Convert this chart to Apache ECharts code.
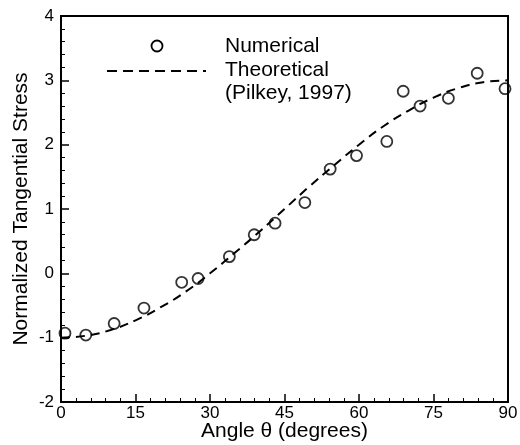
<!DOCTYPE html>
<html>
<head>
<meta charset="utf-8">
<script src="https://cdn.jsdelivr.net/npm/echarts@6/dist/echarts.min.js"></script>
<style>html,body{margin:0;padding:0;background:#fff}#c{width:520px;height:445px}</style>
</head>
<body>
<div id="c"></div>
<script>
// Numerical results (angle in degrees, normalized tangential stress)
var numAngle = [0.8, 5.0, 10.7, 16.7, 24.3, 27.6, 33.9, 38.9, 43.1, 49.1, 54.2, 59.5, 65.6, 68.9, 72.3, 78.0, 83.8, 89.4];
var numStress = [-0.93, -0.96, -0.78, -0.54, -0.14, -0.08, 0.26, 0.60, 0.78, 1.10, 1.62, 1.83, 2.05, 2.83, 2.60, 2.72, 3.11, 2.87];
// Theoretical curve (Pilkey, 1997)
var theoAngle = [0, 5, 10, 15, 20, 25, 30, 35, 40, 45, 50, 55, 60, 65, 70, 75, 80, 85, 90];
var theoStress = [-1.00, -0.97, -0.88, -0.73, -0.53, -0.29, 0.00, 0.32, 0.65, 1.00, 1.35, 1.68, 2.00, 2.29, 2.53, 2.73, 2.88, 2.97, 3.00];
var xTicks = [0, 15, 30, 45, 60, 75, 90];
var yTicks = [-2, -1, 0, 1, 2, 3, 4];

function pairs(a, b) { return a.map(function (v, i) { return [v, b[i]]; }); }

var font = 'Liberation Sans, Arial, sans-serif';
var chart = echarts.init(document.getElementById('c'), null, {renderer: 'canvas'});
chart.setOption({
  animation: false,
  backgroundColor: '#fff',
  grid: {left: 61, right: 12, top: 16, bottom: 43, outerBoundsMode: 'none', containLabel: false,
         show: true, borderColor: '#000', borderWidth: 2, backgroundColor: 'transparent'},
  xAxis: {
    type: 'value', min: xTicks[0], max: xTicks[xTicks.length - 1], interval: 15,
    name: 'Angle \u03b8 (degrees)', nameLocation: 'middle', nameGap: 19, nameMoveOverlap: false,
    nameTextStyle: {fontFamily: font, fontSize: 21, color: '#000'},
    axisLine: {show: true, onZero: false, lineStyle: {color: '#000', width: 2}},
    axisTick: {show: true, inside: true, length: 8, lineStyle: {color: '#000', width: 1.5}},
    minorTick: {show: true, splitNumber: 5, length: 4, lineStyle: {color: '#000', width: 1}},
    axisLabel: {fontFamily: font, fontSize: 17, color: '#000', margin: 3},
    splitLine: {show: false}
  },
  yAxis: {
    type: 'value', min: yTicks[0], max: yTicks[yTicks.length - 1], interval: 1,
    name: 'Normalized Tangential Stress', nameLocation: 'middle', nameGap: 29, nameMoveOverlap: false,
    nameTextStyle: {fontFamily: font, fontSize: 21, color: '#000'},
    axisLine: {show: true, onZero: false, lineStyle: {color: '#000', width: 2}},
    axisTick: {show: true, inside: true, length: 8, lineStyle: {color: '#000', width: 1.5}},
    minorTick: {show: true, splitNumber: 5, length: 4, lineStyle: {color: '#000', width: 1}},
    axisLabel: {fontFamily: font, fontSize: 17, color: '#000', margin: 7},
    splitLine: {show: false}
  },
  series: [
    {
      name: 'Theoretical', type: 'line', data: pairs(theoAngle, theoStress), smooth: true,
      showSymbol: false, lineStyle: {color: '#000', width: 2, type: [9, 6]}, z: 2
    },
    {
      name: 'Numerical', type: 'scatter', data: pairs(numAngle, numStress),
      symbol: 'circle', symbolSize: 11,
      itemStyle: {color: 'rgba(255,255,255,0)', borderColor: '#000', borderWidth: 1.8}, z: 3
    }
  ],
  graphic: [
    {type: 'circle', shape: {cx: 157, cy: 46, r: 5.5}, style: {fill: 'none', stroke: '#000', lineWidth: 1.8}},
    {type: 'line', shape: {x1: 107, y1: 71, x2: 206, y2: 71}, style: {stroke: '#000', lineWidth: 2, lineDash: [10, 6]}},
    {type: 'text', x: 225, y: 46, style: {text: 'Numerical', font: '21px ' + font, fill: '#000', verticalAlign: 'middle'}},
    {type: 'text', x: 225, y: 70, style: {text: 'Theoretical', font: '21px ' + font, fill: '#000', verticalAlign: 'middle'}},
    {type: 'text', x: 225, y: 93, style: {text: '(Pilkey, 1997)', font: '21px ' + font, fill: '#000', verticalAlign: 'middle'}}
  ]
});
</script>
</body>
</html>
